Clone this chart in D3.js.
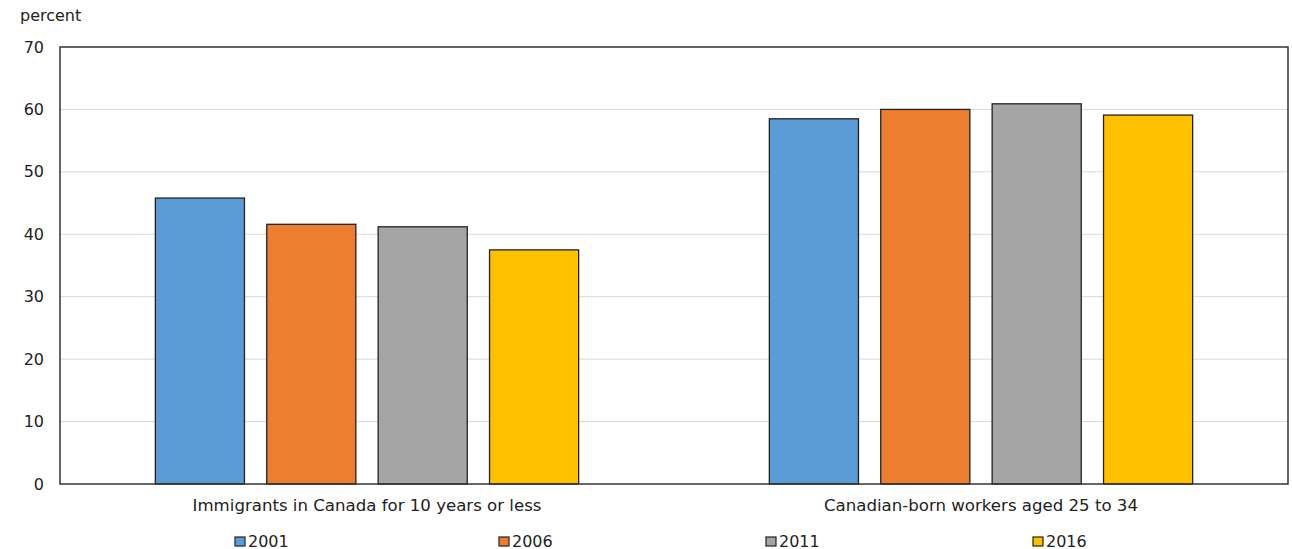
<!DOCTYPE html>
<html><head><meta charset="utf-8">
<script src="https://cdn.jsdelivr.net/npm/d3@7"></script>
<style>body{margin:0;background:#fff}svg{display:block}text{font-family:"DejaVu Sans",Verdana,sans-serif;fill:#222}</style>
</head><body><svg id="c" width="1292" height="549"></svg>
<script>
const categories = ["Immigrants in Canada for 10 years or less", "Canadian-born workers aged 25 to 34"];
const years = ["2001", "2006", "2011", "2016"];
const v2001 = [45.8, 58.5];
const v2006 = [41.6, 60.0];
const v2011 = [41.2, 60.9];
const v2016 = [37.5, 59.1];
const yTicks = [0, 10, 20, 30, 40, 50, 60, 70];
const colors = ["#5B9BD5", "#ED7D31", "#A5A5A5", "#FFC000"];

const series = [v2001, v2006, v2011, v2016];
const svg = d3.select("#c");
const FF = '"DejaVu Sans",Verdana,sans-serif';
const L = 60, R = 1288, T = 47, B = 484;
const x0 = d3.scaleBand().domain(categories).range([L, R]).paddingInner(0).paddingOuter(0);
const x1 = d3.scaleBand().domain(years).range([0, x0.bandwidth()]).paddingInner(0.2).paddingOuter(0.856);
const y = d3.scaleLinear().domain([0, 70]).range([B, T]);

// grid
svg.append("g").selectAll("line").data(yTicks.filter(d => d > 0 && d < 70)).join("line")
  .attr("x1", L).attr("x2", R).attr("y1", d => y(d)).attr("y2", d => y(d))
  .attr("stroke", "#d9d9d9").attr("stroke-width", 1);

// y axis labels
const yAxis = d3.axisLeft(y).tickValues(yTicks).tickSize(0).tickPadding(16);
const ya = svg.append("g").attr("transform", `translate(${L},0)`).call(yAxis);
ya.select(".domain").remove();
ya.selectAll("text").attr("font-size", "16px").attr("font-family", FF).attr("fill", "#222");

svg.append("text").attr("x", 20).attr("y", 21).attr("font-size", "16px").attr("font-family", FF).text("percent");

// bars
categories.forEach((c, ci) => {
  svg.append("g").selectAll("rect").data(years).join("rect")
    .attr("x", (yr, i) => x0(c) + x1(yr))
    .attr("width", x1.bandwidth())
    .attr("y", (yr, i) => y(series[i][ci]))
    .attr("height", (yr, i) => B - y(series[i][ci]))
    .attr("fill", (yr, i) => colors[i])
    .attr("stroke", "#222").attr("stroke-width", 1.3);
});

// frame
svg.append("rect").attr("x", L).attr("y", T).attr("width", R - L).attr("height", B - T)
  .attr("fill", "none").attr("stroke", "#333").attr("stroke-width", 1.5);

// category labels
const xAxis = d3.axisBottom(x0).tickSize(0).tickPadding(15);
const xa = svg.append("g").attr("transform", `translate(0,${B})`).call(xAxis);
xa.select(".domain").remove();
xa.selectAll("text").attr("font-size", "16.6px").attr("font-family", FF).attr("fill", "#222");

// legend
const lx = d3.scaleOrdinal().domain(years).range([235, 499, 766, 1033]);
const lg = svg.append("g").selectAll("g").data(years).join("g")
  .attr("transform", d => `translate(${lx(d)},537)`);
lg.append("rect").attr("width", 10).attr("height", 9)
  .attr("fill", (d, i) => colors[i]).attr("stroke", "#222").attr("stroke-width", 1.2);
lg.append("text").attr("x", 13).attr("y", 9.5).attr("font-size", "16px").attr("font-family", FF).text(d => d);
</script></body></html>
